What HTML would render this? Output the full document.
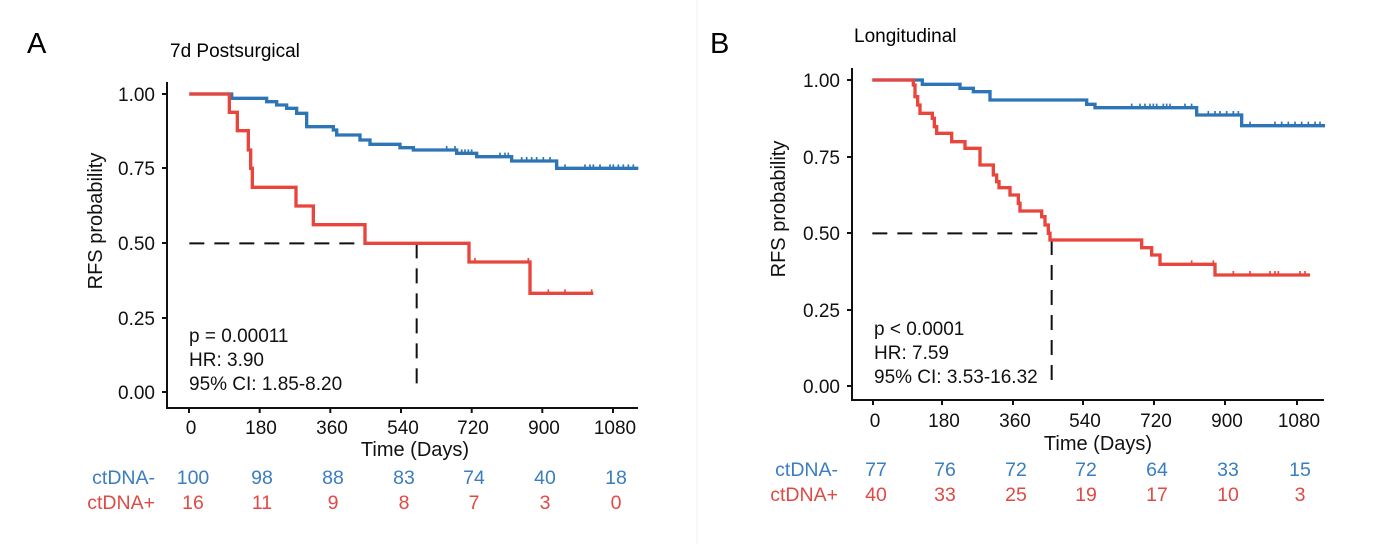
<!DOCTYPE html>
<html><head><meta charset="utf-8"><style>
html,body{margin:0;padding:0;background:#fff;}
svg{display:block;font-family:"Liberation Sans",Arial,sans-serif;}
</style></head><body>
<svg width="1392" height="544" viewBox="0 0 1392 544" xmlns="http://www.w3.org/2000/svg">
<rect width="1392" height="544" fill="#fff"/>
<line x1="697" y1="0" x2="697" y2="544" stroke="#f2f2f2" stroke-width="1"/>
<!-- Panel A -->
<text x="27" y="53" font-size="29">A</text>
<text x="170" y="57" font-size="19">7d Postsurgical</text>
<g transform="translate(160,80) scale(0.3333333)" fill="none" stroke-linejoin="miter">
<path d="M88,490 H770 M770,490 V937" stroke="#111" stroke-width="6" stroke-dasharray="45,30"/>
<path d="M88,42 H215 V55 H320 V65 H350 V75 H380 V85 H410 V100 H440 V140 H520 V150 H530 V165 H600 V180 H630 V193 H720 V203 H760 V210 H890 V220 H950 V230 H1055 V243 H1190 V265 H1435" stroke="#2e75b6" stroke-width="10"/>
<path d="M860,198 v14 M885,198 v14 M905,208 v14 M915,208 v14 M925,208 v14 M935,208 v14 M1020,218 v14 M1035,218 v14 M1045,218 v14 M1085,231 v14 M1100,231 v14 M1115,231 v14 M1130,231 v14 M1150,231 v14 M1170,231 v14 M1215,253 v14 M1275,253 v14 M1290,253 v14 M1300,253 v14 M1320,253 v14 M1350,253 v14 M1360,253 v14 M1375,253 v14 M1390,253 v14 M1405,253 v14 M1420,253 v14" stroke="#2e75b6" stroke-width="5"/>
<path d="M88,42 H208 V97 H232 V152 H265 V210 H272 V265 H277 V322 H408 V378 H460 V434 H615 V490 H927 V546 H1110 V640 H1300" stroke="#e8453c" stroke-width="10"/>
<path d="M945,534 v14 M1105,534 v14 M1165,628 v14 M1215,628 v14 M1295,628 v14" stroke="#e8453c" stroke-width="5"/>
</g>
<g stroke="#111" stroke-width="2">
<line x1="167" y1="82" x2="167" y2="409"/>
<line x1="166" y1="408" x2="638" y2="408"/>
<line x1="162" y1="94" x2="167" y2="94"/><line x1="162" y1="168" x2="167" y2="168"/><line x1="162" y1="243" x2="167" y2="243"/><line x1="162" y1="318" x2="167" y2="318"/><line x1="162" y1="392" x2="167" y2="392"/>
<line x1="189" y1="408" x2="189" y2="413"/><line x1="259.7" y1="408" x2="259.7" y2="413"/><line x1="330.3" y1="408" x2="330.3" y2="413"/><line x1="401" y1="408" x2="401" y2="413"/><line x1="471.7" y1="408" x2="471.7" y2="413"/><line x1="542.3" y1="408" x2="542.3" y2="413"/><line x1="613" y1="408" x2="613" y2="413"/>
</g>
<g font-size="19" text-anchor="end" fill="#111">
<text x="155" y="101">1.00</text><text x="155" y="175">0.75</text><text x="155" y="250">0.50</text><text x="155" y="325">0.25</text><text x="155" y="399">0.00</text>
</g>
<g font-size="19" text-anchor="middle" fill="#111">
<text x="191" y="434">0</text><text x="261" y="434">180</text><text x="332" y="434">360</text><text x="403" y="434">540</text><text x="473" y="434">720</text><text x="544" y="434">900</text><text x="615" y="434">1080</text>
<text x="415" y="456" font-size="20">Time (Days)</text>
<text transform="translate(102,221) rotate(-90)" font-size="20">RFS probability</text>
</g>
<g font-size="19" fill="#111">
<text x="189" y="342">p = 0.00011</text><text x="189" y="366">HR: 3.90</text><text x="189" y="390">95% CI: 1.85-8.20</text>
</g>
<g font-size="19.5" text-anchor="middle" fill="#3a7dc0">
<text x="155" y="484" text-anchor="end">ctDNA-</text>
<text x="193" y="484">100</text><text x="262" y="484">98</text><text x="333" y="484">88</text><text x="404" y="484">83</text><text x="474" y="484">74</text><text x="545" y="484">40</text><text x="616" y="484">18</text>
</g>
<g font-size="19.5" text-anchor="middle" fill="#e04a45">
<text x="155" y="509" text-anchor="end">ctDNA+</text>
<text x="193" y="509">16</text><text x="262" y="509">11</text><text x="333" y="509">9</text><text x="404" y="509">8</text><text x="474" y="509">7</text><text x="545" y="509">3</text><text x="616" y="509">0</text>
</g>
<!-- Panel B -->
<text x="710" y="53" font-size="29">B</text>
<text x="854" y="42" font-size="19">Longitudinal</text>
<g transform="translate(845,65) scale(0.3333333)" fill="none">
<path d="M82,505 H615 M620,525 V960" stroke="#111" stroke-width="6" stroke-dasharray="45,30"/>
<path d="M82,45 H232 V58 H345 V70 H385 V80 H435 V105 H725 V118 H750 V128 H1055 V150 H1190 V182 H1440" stroke="#2e75b6" stroke-width="10"/>
<path d="M860,116 v14 M885,116 v14 M900,116 v14 M915,116 v14 M925,116 v14 M935,116 v14 M955,116 v14 M965,116 v14 M975,116 v14 M1020,116 v14 M1040,116 v14 M1090,138 v14 M1110,138 v14 M1125,138 v14 M1145,138 v14 M1165,138 v14 M1180,138 v14 M1215,170 v14 M1290,170 v14 M1310,170 v14 M1330,170 v14 M1350,170 v14 M1370,170 v14 M1390,170 v14 M1410,170 v14 M1425,170 v14" stroke="#2e75b6" stroke-width="5"/>
<path d="M82,45 H205 V60 H210 V95 H218 V120 H225 V145 H262 V160 H268 V185 H275 V205 H320 V230 H360 V250 H405 V300 H445 V330 H455 V350 H462 V368 H495 V390 H520 V415 H525 V438 H590 V455 H600 V480 H610 V505 H615 V525 H890 V548 H920 V570 H945 V598 H1110 V630 H1395" stroke="#e8453c" stroke-width="10"/>
<path d="M1040,586 v14 M1105,586 v14 M1165,618 v14 M1215,618 v14 M1275,618 v14 M1290,618 v14 M1300,618 v14 M1365,618 v14 M1380,618 v14" stroke="#e8453c" stroke-width="5"/>
</g>
<g stroke="#111" stroke-width="2">
<line x1="852" y1="68" x2="852" y2="401"/>
<line x1="851" y1="400" x2="1324" y2="400"/>
<line x1="847" y1="80" x2="852" y2="80"/><line x1="847" y1="157" x2="852" y2="157"/><line x1="847" y1="233" x2="852" y2="233"/><line x1="847" y1="310" x2="852" y2="310"/><line x1="847" y1="386" x2="852" y2="386"/>
<line x1="873" y1="400" x2="873" y2="405"/><line x1="942" y1="400" x2="942" y2="405"/><line x1="1013" y1="400" x2="1013" y2="405"/><line x1="1083" y1="400" x2="1083" y2="405"/><line x1="1154" y1="400" x2="1154" y2="405"/><line x1="1225" y1="400" x2="1225" y2="405"/><line x1="1297" y1="400" x2="1297" y2="405"/>
</g>
<g font-size="19" text-anchor="end" fill="#111">
<text x="840" y="87">1.00</text><text x="840" y="164">0.75</text><text x="840" y="240">0.50</text><text x="840" y="317">0.25</text><text x="840" y="393">0.00</text>
</g>
<g font-size="19" text-anchor="middle" fill="#111">
<text x="875" y="427">0</text><text x="944" y="427">180</text><text x="1015" y="427">360</text><text x="1085" y="427">540</text><text x="1156" y="427">720</text><text x="1227" y="427">900</text><text x="1299" y="427">1080</text>
<text x="1098" y="450" font-size="20">Time (Days)</text>
<text transform="translate(785,209) rotate(-90)" font-size="20">RFS probability</text>
</g>
<g font-size="19" fill="#111">
<text x="874" y="335">p &lt; 0.0001</text><text x="874" y="359">HR: 7.59</text><text x="874" y="383">95% CI: 3.53-16.32</text>
</g>
<g font-size="19.5" text-anchor="middle" fill="#3a7dc0">
<text x="838" y="476" text-anchor="end">ctDNA-</text>
<text x="876" y="476">77</text><text x="945" y="476">76</text><text x="1016" y="476">72</text><text x="1086" y="476">72</text><text x="1157" y="476">64</text><text x="1228" y="476">33</text><text x="1300" y="476">15</text>
</g>
<g font-size="19.5" text-anchor="middle" fill="#e04a45">
<text x="838" y="501" text-anchor="end">ctDNA+</text>
<text x="876" y="501">40</text><text x="945" y="501">33</text><text x="1016" y="501">25</text><text x="1086" y="501">19</text><text x="1157" y="501">17</text><text x="1228" y="501">10</text><text x="1300" y="501">3</text>
</g>
</svg>
</body></html>
